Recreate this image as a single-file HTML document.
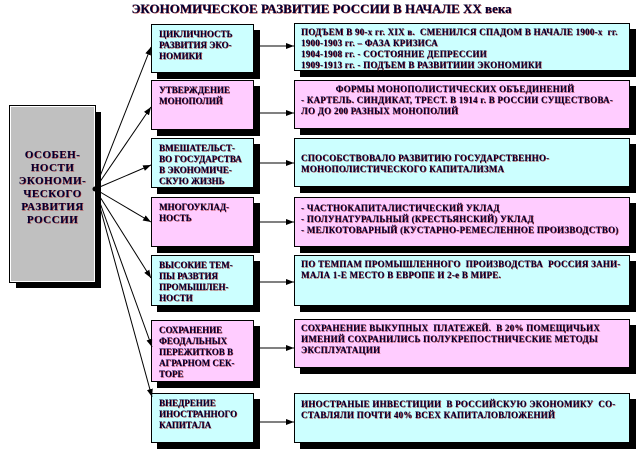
<!DOCTYPE html>
<html><head><meta charset="utf-8"><style>
body{margin:0;width:643px;height:458px;background:#fff;position:relative;overflow:hidden;font-family:"Liberation Serif",serif;}
.b{position:absolute;border:1px solid #000;box-shadow:6px 6px 0 #000;box-sizing:border-box;font-weight:bold;font-size:9px;line-height:11px;color:#000033;text-shadow:0.6px 0.6px 0 #a33;}
.c{background:#ccffff}.p{background:#ffccff}
.m{left:151px;width:103px;padding:4px 0 0 7px;}
.r{left:294px;width:336px;padding:3px 0 0 6px;letter-spacing:0.25px;}
#t{position:absolute;left:0;width:643px;top:1px;text-align:center;font-weight:bold;font-size:13px;color:#000033;text-shadow:0.6px 0.6px 0 #a33;}
svg{position:absolute;left:0;top:0}
</style></head><body>
<div id="t">ЭКОНОМИЧЕСКОЕ РАЗВИТИЕ РОССИИ В НАЧАЛЕ ХХ века</div>
<div class="b" style="left:10px;top:106px;width:85px;height:176px;background:#c0c0c0;border:1px solid #fff;outline:1px solid #000;text-align:center;font-size:11px;line-height:13px;letter-spacing:0.5px;padding-top:42px;">ОСОБЕН-<br>НОСТИ<br>ЭКОНОМИ-<br>ЧЕСКОГО<br>РАЗВИТИЯ<br>РОССИИ</div>

<div class="b m c" style="top:24px;height:49px;">ЦИКЛИЧНОСТЬ<br>РАЗВИТИЯ ЭКО-<br>НОМИКИ</div>
<div class="b m p" style="top:80px;height:50px;">УТВЕРЖДЕНИЕ<br>МОНОПОЛИЙ</div>
<div class="b m c" style="top:138px;height:50px;">ВМЕШАТЕЛЬСТ-<br>ВО ГОСУДАРСТВА<br>В ЭКОНОМИЧЕ-<br>СКУЮ ЖИЗНЬ</div>
<div class="b m p" style="top:197px;height:50px;">МНОГОУКЛАД-<br>НОСТЬ</div>
<div class="b m c" style="top:255px;height:51px;">ВЫСОКИЕ ТЕМ-<br>ПЫ РАЗВТИЯ<br>ПРОМЫШЛЕН-<br>НОСТИ</div>
<div class="b m p" style="top:320px;height:62px;">СОХРАНЕНИЕ<br>ФЕОДАЛЬНЫХ<br>ПЕРЕЖИТКОВ В<br>АГРАРНОМ СЕК-<br>ТОРЕ</div>
<div class="b m c" style="top:393px;height:50px;">ВНЕДРЕНИЕ<br>ИНОСТРАННОГО<br>КАПИТАЛА</div>

<div class="b r c" style="top:23px;height:48px;">ПОДЪЕМ В 90-х гг. XIX в.&nbsp; СМЕНИЛСЯ СПАДОМ В НАЧАЛЕ 1900-х&nbsp; гг.<br>1900-1903 гг. – ФАЗА КРИЗИСА<br>1904-1908 гг. - СОСТОЯНИЕ ДЕПРЕССИИ<br>1909-1913 гг. - ПОДЪЕМ В РАЗВИТИИИ ЭКОНОМИКИ</div>
<div class="b r p" style="top:80px;height:49px;"><div style="text-align:center;padding-right:20px">ФОРМЫ МОНОПОЛИСТИЧЕСКИХ ОБЪЕДИНЕНИЙ</div>- КАРТЕЛЬ. СИНДИКАТ, ТРЕСТ. В 1914 г. В РОССИИ СУЩЕСТВОВА-<br>ЛО ДО 200 РАЗНЫХ МОНОПОЛИЙ</div>
<div class="b r c" style="top:138px;height:49px;padding-top:14px;">СПОСОБСТВОВАЛО РАЗВИТИЮ ГОСУДАРСТВЕННО-<br>МОНОПОЛИСТИЧЕСКОГО КАПИТАЛИЗМА</div>
<div class="b r p" style="top:197px;height:50px;padding-top:5px;">- ЧАСТНОКАПИТАЛИСТИЧЕСКИЙ УКЛАД<br>- ПОЛУНАТУРАЛЬНЫЙ (КРЕСТЬЯНСКИЙ) УКЛАД<br>- МЕЛКОТОВАРНЫЙ (КУСТАРНО-РЕМЕСЛЕННОЕ ПРОИЗВОДСТВО)</div>
<div class="b r c" style="top:255px;height:51px;">ПО ТЕМПАМ ПРОМЫШЛЕННОГО&nbsp; ПРОИЗВОДСТВА&nbsp; РОССИЯ ЗАНИ-<br>МАЛА 1-Е МЕСТО В ЕВРОПЕ И 2-е В МИРЕ.</div>
<div class="b r p" style="top:319px;height:49px;">СОХРАНЕНИЕ ВЫКУПНЫХ&nbsp; ПЛАТЕЖЕЙ.&nbsp; В 20% ПОМЕЩИЧЬИХ<br>ИМЕНИЙ СОХРАНИЛИСЬ ПОЛУКРЕПОСТНИЧЕСКИЕ МЕТОДЫ<br>ЭКСПЛУАТАЦИИ</div>
<div class="b r c" style="top:393px;height:50px;padding-top:5px;">ИНОСТРАНЫЕ ИНВЕСТИЦИИ&nbsp; В РОССИЙСКУЮ ЭКОНОМИКУ&nbsp; СО-<br>СТАВЛЯЛИ ПОЧТИ 40% ВСЕХ КАПИТАЛОВЛОЖЕНИЙ</div>

<svg width="643" height="458">
<defs><marker id="a" markerWidth="8" markerHeight="6" refX="8" refY="3" orient="auto" markerUnits="userSpaceOnUse"><path d="M0,0L8,3L0,6z" fill="#000"/></marker></defs>
<g stroke="#000" stroke-width="1" fill="none" marker-end="url(#a)">
<line x1="95" y1="189" x2="151" y2="47"/>
<line x1="95" y1="189" x2="151" y2="107"/>
<line x1="95" y1="189" x2="151" y2="165"/>
<line x1="95" y1="189" x2="151" y2="222"/>
<line x1="95" y1="189" x2="151" y2="278"/>
<line x1="95" y1="189" x2="152" y2="347"/>
<line x1="95" y1="189" x2="152" y2="397"/>
<line x1="254" y1="46" x2="294" y2="46"/>
<line x1="254" y1="113" x2="294" y2="113"/>
<line x1="254" y1="163" x2="294" y2="163"/>
<line x1="254" y1="222" x2="294" y2="222"/>
<line x1="254" y1="282" x2="294" y2="282"/>
<line x1="254" y1="348" x2="294" y2="348"/>
<line x1="254" y1="422" x2="294" y2="422"/>
</g>
<circle cx="95" cy="189" r="2.5" fill="#000"/>
</svg>
</body></html>
